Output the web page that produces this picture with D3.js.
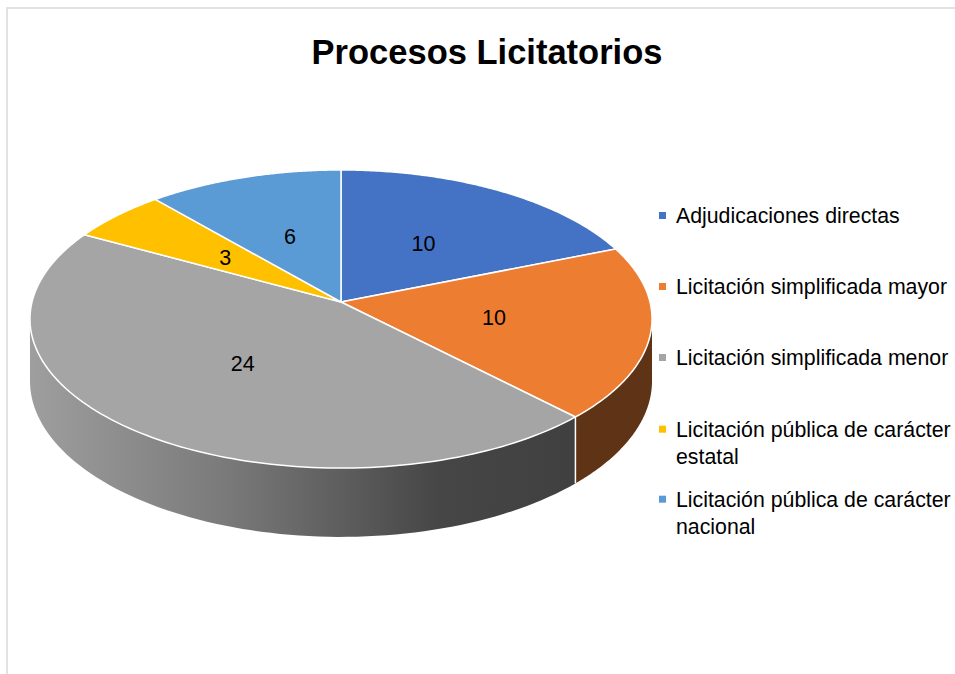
<!DOCTYPE html>
<html><head><meta charset="utf-8">
<script src="https://cdn.jsdelivr.net/npm/d3@7"></script>
<style>html,body{margin:0;padding:0;background:#fff;overflow:hidden}</style>
</head><body>
<script>
const title = "Procesos Licitatorios";
const categories = ["Adjudicaciones directas","Licitación simplificada mayor","Licitación simplificada menor","Licitación pública de carácter estatal","Licitación pública de carácter nacional"];
const legendLines = [["Adjudicaciones directas"],["Licitación simplificada mayor"],["Licitación simplificada menor"],["Licitación pública de carácter","estatal"],["Licitación pública de carácter","nacional"]];
const values = [10,10,24,3,6];
const colors = ["#4472c4","#ed7d31","#a5a5a5","#ffc000","#5b9bd5"];
const sideColors = ["#26406f","#5f3316","url(#graySide)","#8f6c00","#33587a"];

const W=955,H=674;
const svg=d3.select("body").append("svg").attr("width",W).attr("height",H);
svg.append("rect").attr("x",7).attr("y",8).attr("width",W+20).attr("height",H+20)
  .attr("fill","#fff").attr("stroke","#d9d9d9").attr("stroke-width",1.5);

// projection parameters (perspective tilted disc)
const cx=341, cy=302, R=309, B=147.1, k=0.1141, h=61;
function proj(r,t,dz){
  const d=1+k*r*Math.cos(t);
  return [cx+R*r*Math.sin(t)/d, cy-B*r*Math.cos(t)/d+(dz?dz/d:0)];
}
const pie=d3.pie().sort(null).value(d=>d)(values);

const defs=svg.append("defs");
const g=defs.append("linearGradient").attr("id","graySide").attr("gradientUnits","userSpaceOnUse")
  .attr("x1",30).attr("x2",575).attr("y1",0).attr("y2",0);
[[0,"#9e9e9e"],[0.35,"#7b7b7b"],[0.75,"#464646"],[1,"#404040"]].forEach(s=>g.append("stop").attr("offset",s[0]).attr("stop-color",s[1]));

const line=d3.line();
function sample(a0,a1,n){const s=[];for(let i=0;i<=n;i++)s.push(a0+(a1-a0)*i/n);return s;}

// sides
const vis0=Math.acos(-k), vis1=2*Math.PI-vis0;
pie.forEach((p,i)=>{
  const a0=Math.max(p.startAngle,vis0), a1=Math.min(p.endAngle,vis1);
  if(a1<=a0) return;
  const ts=sample(a0,a1,80);
  const pts=ts.map(t=>proj(1,t,0)).concat(ts.slice().reverse().map(t=>proj(1,t,h)));
  svg.append("path").attr("d",line(pts)+"Z").attr("fill",sideColors[i]).attr("stroke","none");
});
// side boundary lines
pie.forEach(p=>{
  const t=p.endAngle;
  if(t>vis0 && t<vis1){
    svg.append("path").attr("d",line([proj(1,t,0),proj(1,t,h)])).attr("stroke","#fff").attr("stroke-width",1.5).attr("fill","none");
  }
});
// top faces
pie.forEach((p,i)=>{
  const ts=sample(p.startAngle,p.endAngle,120);
  const pts=[proj(0,0,0)].concat(ts.map(t=>proj(1,t,0)));
  svg.append("path").attr("d",line(pts)+"Z").attr("fill",colors[i])
    .attr("stroke","#fff").attr("stroke-width",1.5).attr("stroke-linejoin","round");
});
// labels
pie.forEach((p,i)=>{
  const c=proj(0.5,(p.startAngle+p.endAngle)/2,0);
  svg.append("text").attr("x",c[0]).attr("y",c[1]+7.5).attr("text-anchor","middle")
    .attr("font-family","Liberation Sans, Arial, sans-serif").attr("font-size",21.5).attr("fill","#000").text(values[i]);
});
// title
svg.append("text").attr("x",487).attr("y",64).attr("text-anchor","middle")
  .attr("font-family","Liberation Sans, Arial, sans-serif").attr("font-weight","bold").attr("font-size",34.5)
  .attr("fill","#000").text(title);
// legend
const baselines=[223,294,365,436.7,506.7];
const ly=d3.scaleOrdinal().domain(categories).range(baselines);
categories.forEach((c,i)=>{
  const y=ly(c);
  svg.append("rect").attr("x",659).attr("y",y-11).attr("width",7).attr("height",7).attr("fill",colors[i]);
  const t=svg.append("text").attr("x",676).attr("y",y).attr("font-family","Liberation Sans, Arial, sans-serif")
    .attr("font-size",21.3).attr("fill","#000");
  legendLines[i].forEach((l,j)=>t.append("tspan").attr("x",676).attr("dy",j?27.5:0).text(l));
});
</script>
</body></html>
